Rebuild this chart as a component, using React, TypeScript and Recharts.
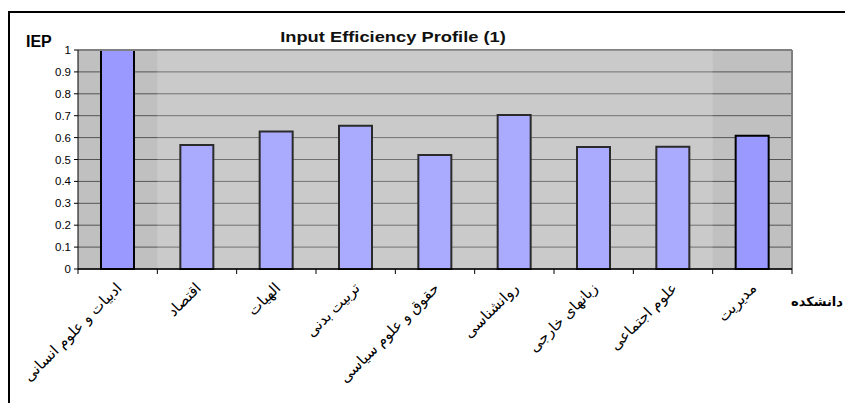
import {
  Bar,
  BarChart,
  CartesianGrid,
  ReferenceArea,
  ReferenceLine,
  XAxis,
  YAxis,
} from 'recharts';

const FACULTIES = [
  'ادبیات و علوم انسانی',
  'اقتصاد',
  'الهیات',
  'تربیت بدنی',
  'حقوق و علوم سیاسی',
  'روانشناسی',
  'زبانهای خارجی',
  'علوم اجتماعی',
  'مدیریت',
];
const IEP_VALUES = [1.0, 0.566, 0.628, 0.654, 0.52, 0.703, 0.557, 0.558, 0.609];
const Y_TICKS = [0, 0.1, 0.2, 0.3, 0.4, 0.5, 0.6, 0.7, 0.8, 0.9, 1];

const FONT = '"Liberation Sans", Arial, "DejaVu Sans", sans-serif';

const data = FACULTIES.map((name, i) => ({ name, iep: IEP_VALUES[i] }));

function FacultyTick(props: any) {
  const { x, y, payload, index, visibleTicksCount } = props;
  const half = payload?.offset ?? 0;
  const isLast = index === visibleTicksCount - 1;
  const tx = x + 5;
  const ty = y + 20;
  return (
    <g>
      <line x1={x - half} y1={y} x2={x - half} y2={y + 5} stroke="#000" />
      {isLast && <line x1={x + half} y1={y} x2={x + half} y2={y + 5} stroke="#000" />}
      <text
        x={tx}
        y={ty}
        textAnchor="end"
        fontSize={15}
        fontFamily={FONT}
        fill="#000"
        transform={`rotate(-45, ${tx}, ${ty})`}
      >
        {payload.value}
      </text>
    </g>
  );
}

export default function App() {
  return (
    <div style={{ position: 'absolute', left: 0, top: 0, width: 845, height: 403, background: '#fff', overflow: 'hidden' }}>
      <div
        style={{
          position: 'absolute',
          left: 8,
          top: 11,
          width: 837,
          height: 392,
          borderTop: '2px solid #000',
          borderLeft: '2px solid #000',
          boxSizing: 'border-box',
        }}
      />
      <div
        style={{
          position: 'absolute',
          left: 0,
          width: 786,
          top: 28,
          textAlign: 'center',
          fontFamily: FONT,
          fontWeight: 'bold',
          fontSize: 15,
          color: '#111',
          transform: 'scaleX(1.22)',
          transformOrigin: '393px 0',
        }}
      >
        Input Efficiency Profile (1)
      </div>
      <div
        style={{
          position: 'absolute',
          left: 26,
          top: 33,
          fontFamily: FONT,
          fontWeight: 'bold',
          fontSize: 16,
          color: '#000',
        }}
      >
        IEP
      </div>
      <div
        style={{
          position: 'absolute',
          right: 2,
          top: 294,
          fontFamily: FONT,
          fontWeight: 'bold',
          fontSize: 13,
          color: '#000',
        }}
      >
        دانشکده
      </div>
      <div style={{ position: 'absolute', left: 0, top: 0 }}>
        <BarChart
          width={845}
          height={403}
          data={data}
          margin={{ top: 50, right: 53, bottom: 0, left: 0 }}
          barCategoryGap={0}
        >
          <CartesianGrid vertical={false} fill="#c0c0c0" stroke="#555" />
          <XAxis
            dataKey="name"
            height={134}
            interval={0}
            tickLine={false}
            tickSize={0}
            tickMargin={0}
            axisLine={{ stroke: '#000', strokeWidth: 1.5 }}
            tick={<FacultyTick />}
          />
          <YAxis
            width={78}
            domain={[0, 1]}
            ticks={Y_TICKS}
            interval={0}
            tickSize={4}
            tickMargin={3}
            tick={{ fill: '#000', fontSize: 11.5, fontFamily: FONT }}
            tickLine={{ stroke: '#000' }}
            axisLine={{ stroke: '#000' }}
            tickFormatter={(v: number) => String(Math.round(v * 10) / 10)}
          />
          <ReferenceLine y={1} stroke="#808080" strokeWidth={2} />
          <ReferenceLine x={FACULTIES[FACULTIES.length - 1]} position="end" stroke="#808080" strokeWidth={2} />
          <Bar
            dataKey="iep"
            fill="#9999ff"
            stroke="#000"
            strokeWidth={2}
            barSize={33}
            isAnimationActive={false}
          />
          <ReferenceArea
            x1={FACULTIES[1]}
            x2={FACULTIES[FACULTIES.length - 2]}
            fill="#fff"
            fillOpacity={0.17}
            stroke="none"
            zIndex={450}
          />
        </BarChart>
      </div>
    </div>
  );
}
